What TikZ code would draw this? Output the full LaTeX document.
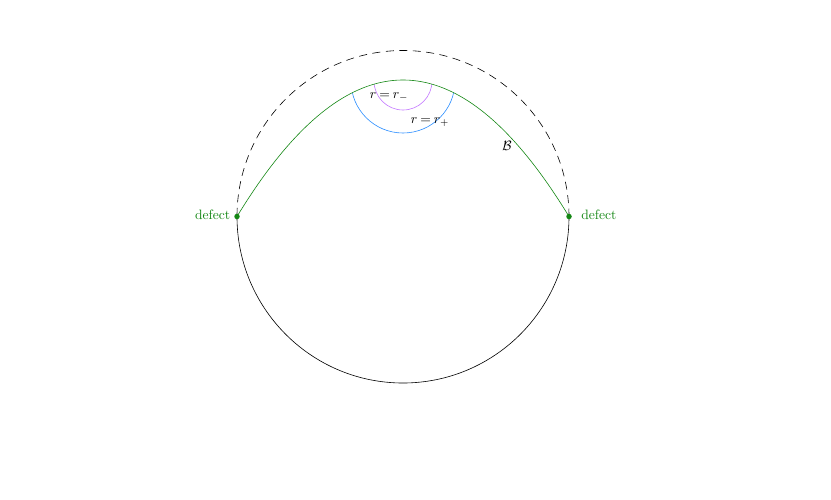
\documentclass[tikz,border=0pt]{standalone}
\definecolor{dgreen}{RGB}{20,135,20}
\definecolor{hblue}{RGB}{40,140,255}
\definecolor{hpurple}{RGB}{195,120,255}
\begin{document}
\begin{tikzpicture}[x=1pt,y=-1pt,
  curve/.style={line width=0.6pt},
  lbl/.style={scale=1.36, inner sep=0pt}]
\useasboundingbox (0,0) rectangle (831,499);
\coordinate (c) at (403,216.5);
\coordinate (top) at (403,81);
% lower solid half
\draw[curve] (237,216.5) arc[start angle=180,end angle=360,x radius=166,y radius=-166.5];
% upper dashed half
\draw[curve, dash pattern=on 8pt off 5.5pt] (569,216.5) arc[start angle=0,end angle=-180,x radius=166,y radius=166];
% horizon arcs clipped below curve
\begin{scope}
\clip plot[domain=237:569,samples=80] (\x,{80+136.5*((\x-403)/166)^2}) -- (569,499) -- (237,499) -- cycle;
\draw[curve, hblue] (top) circle[radius=52];
\draw[curve, hpurple] (top) circle[radius=29];
\end{scope}
\draw[curve, dgreen] plot[domain=237:569,samples=80] (\x,{80+136.5*((\x-403)/166)^2});
\node[circle, fill=dgreen, inner sep=0pt, minimum size=5.5pt] (dl) at (237,216.5) {};
\node[circle, fill=dgreen, inner sep=0pt, minimum size=5.5pt] (dr) at (569,216.5) {};
\node[lbl, text=dgreen, anchor=east] (tl) at (230.5,215) {defect};
\node[lbl, text=dgreen, anchor=west] (tr) at (581,215) {defect};
\node[lbl] (rm) at (389,97.5) {$r\mathbin{=}r_-$};
\node[lbl] (rp) at (430,122.5) {$r\mathbin{=}r_+$};
\node[lbl] (B) at (507,146) {$\mathcal{B}$};
\end{tikzpicture}
\end{document}
